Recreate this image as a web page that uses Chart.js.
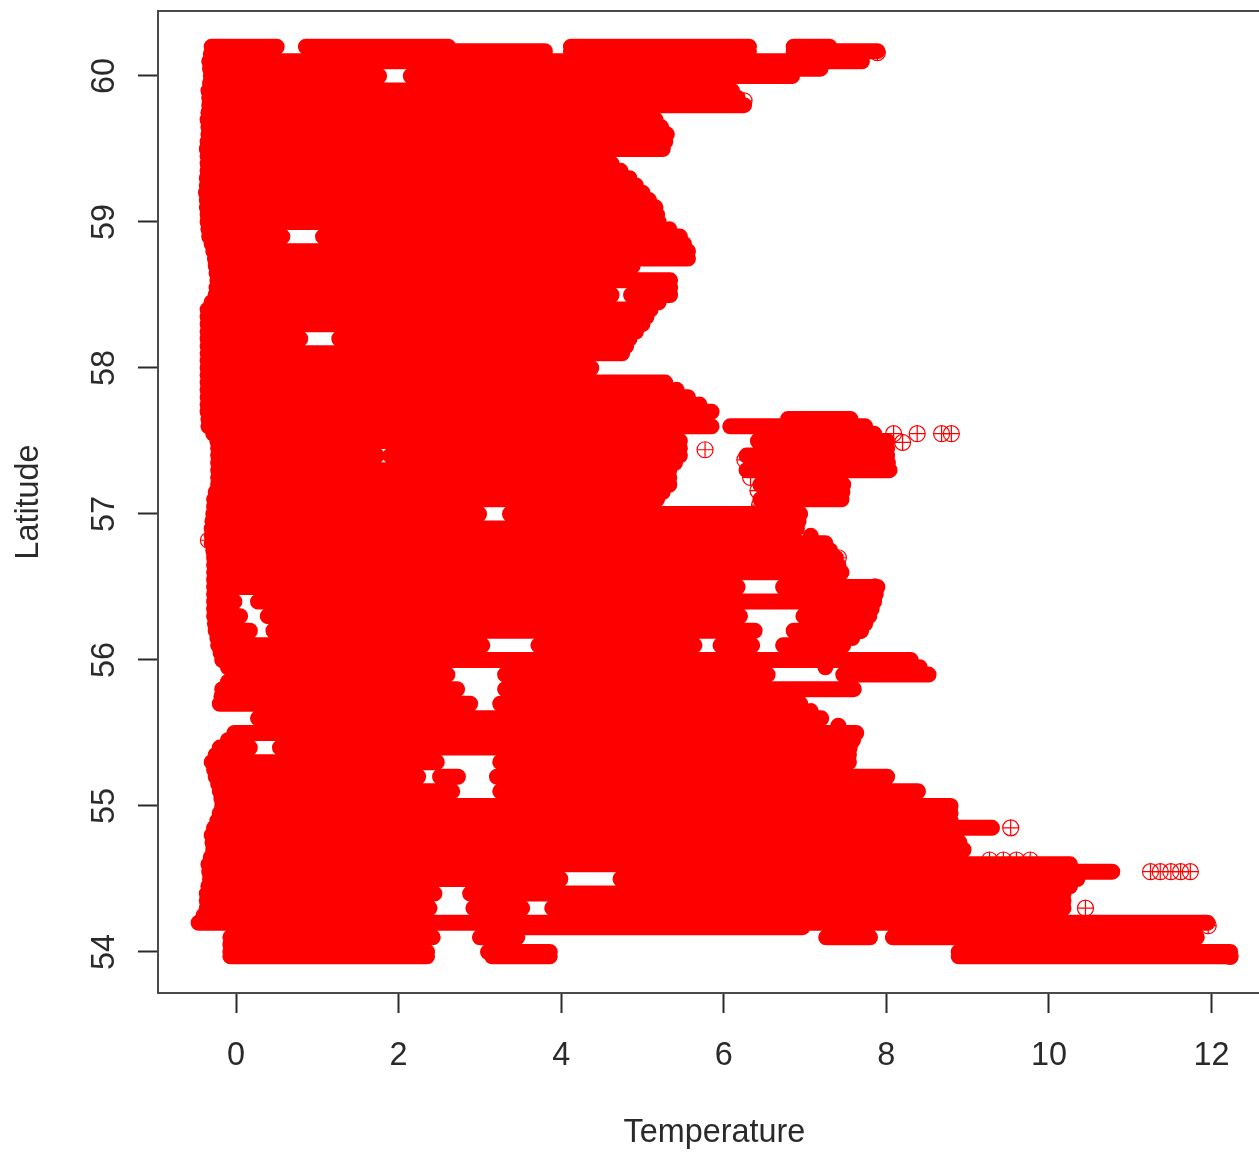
<!DOCTYPE html>
<html><head><meta charset="utf-8">
<style>html,body{margin:0;padding:0;background:#fff;overflow:hidden;width:1259px;height:1153px}canvas{display:block}</style>
<script src="https://cdn.jsdelivr.net/npm/chart.js@4"></script>
</head><body><canvas id="c" width="1280" height="1153"></canvas>
<script>
const xTicks=[0,2,4,6,8,10,12];
const yTicks=[54,55,56,57,58,59,60];
// Latitude rows, with the filled temperature runs [from,to,from,to,...] on each.
const latitudes=[60.2,60.17,60.1,60.05,60.0,59.9,59.8,59.7,59.6,59.5,59.4,59.3,59.2,59.1,59.0,58.9,58.8,58.75,58.7,58.6,58.5,58.4,58.3,58.2,58.1,58.0,57.9,57.8,57.7,57.65,57.6,57.5,57.4,57.3,57.2,57.1,57.0,56.9,56.8,56.7,56.6,56.5,56.4,56.3,56.2,56.1,56.0,55.9,55.8,55.7,55.6,55.5,55.4,55.3,55.2,55.1,55.0,54.9,54.85,54.8,54.7,54.6,54.55,54.5,54.4,54.3,54.2,54.17,54.1,54.0,53.97];
const temperatureRuns=[
[-0.30,0.50,0.86,2.61,4.12,6.31,6.86,7.30],
[2.00,3.80,4.12,6.31,6.86,7.89],
[-0.33,7.70],
[5.90,7.19],
[-0.31,1.76,2.15,6.84],
[-0.34,6.10],
[-0.33,6.25],
[-0.35,5.16],
[-0.34,5.30],
[-0.36,5.25],
[-0.35,4.62],
[-0.36,4.84],
[-0.37,5.00],
[-0.36,5.16],
[-0.35,5.20],
[-0.33,0.57,1.07,5.46],
[-0.28,5.56],
[4.50,5.56],
[-0.25,4.88],
[-0.23,5.34],
[-0.25,4.62,4.86,5.34],
[-0.35,5.10],
[-0.35,5.00],
[-0.35,0.79,1.27,4.84],
[-0.35,4.75],
[-0.35,4.37],
[-0.35,5.28],
[-0.35,5.56],
[-0.35,5.85],
[6.79,7.56],
[-0.34,5.85,6.08,7.74],
[-0.23,5.46,6.42,8.01],
[-0.22,1.73,1.90,5.46,6.28,8.01],
[-0.22,5.33,6.28,8.04],
[-0.22,5.33,6.45,7.47],
[-0.27,5.18,6.45,7.45],
[-0.28,2.99,3.37,6.94],
[-0.30,6.90],
[-0.30,7.25],
[-0.27,7.38],
[-0.27,7.45],
[-0.27,6.17,6.73,7.89],
[-0.27,-0.02,0.27,7.85],
[-0.27,0.05,0.39,6.20,6.98,7.79],
[-0.25,0.17,0.46,6.38,6.86,7.69],
[-0.22,3.03,3.72,5.64,5.96,6.35,6.73,7.47],
[-0.17,8.30],
[-0.02,2.60,3.31,6.54,7.47,8.52],
[-0.17,2.72,3.31,7.60],
[-0.20,2.88,3.25,6.94],
[0.27,7.20],
[-0.02,7.63],
[-0.20,0.17,0.54,7.55],
[-0.30,2.47,3.25,7.54],
[-0.25,2.24,2.51,2.73,3.21,8.01],
[-0.20,2.66,3.25,8.39],
[-0.17,8.79],
[-0.23,8.79],
[8.50,9.30],
[-0.30,8.86],
[-0.28,8.95],
[-0.34,10.26],
[8.00,10.78],
[-0.32,3.99,4.73,10.35],
[-0.36,2.44,2.88,10.18],
[-0.36,2.38,2.92,3.52,3.89,10.18],
[-0.46,11.95],
[3.50,6.97],
[-0.07,2.42,3.00,3.46,7.26,7.80,8.08,11.82],
[-0.07,2.35,3.10,3.86,8.89,12.23],
[-0.07,2.35,3.15,3.86,8.89,12.23]
];
// Solid markers along the left and right rims of the cloud.
const leftRimLatitude=[60.15,60.05,59.95,59.85,59.75,59.65,59.55,59.45,59.35,59.25,59.15,59.05,58.95,58.85,58.75,58.65,58.55,58.45,58.35,58.25,58.15,58.05,57.95,57.85,57.75,57.65,57.55,57.45,57.35,57.25,57.15,57.05,56.95,56.85,56.75,56.65,56.55,56.45,56.35,56.25,56.15,56.05,55.95,55.85,55.75,55.45,55.35,55.25,55.15,55.05,54.95,54.85,54.75,54.65,54.55,54.45,54.35,54.25,54.05];
const leftRimTemperature=[-0.31,-0.32,-0.32,-0.33,-0.34,-0.34,-0.35,-0.35,-0.35,-0.36,-0.36,-0.35,-0.34,-0.30,-0.26,-0.24,-0.24,-0.30,-0.35,-0.35,-0.35,-0.35,-0.35,-0.35,-0.35,-0.34,-0.28,-0.22,-0.22,-0.22,-0.25,-0.27,-0.29,-0.30,-0.28,-0.27,-0.27,-0.27,-0.27,-0.26,-0.23,-0.19,-0.10,-0.10,-0.18,-0.10,-0.25,-0.27,-0.22,-0.18,-0.20,-0.27,-0.29,-0.31,-0.33,-0.34,-0.36,-0.40,-0.07];
const rightRimLatitude=[59.85,59.65,59.55,59.35,59.25,59.15,59.05,58.95,58.85,58.55,58.45,58.35,58.25,58.15,57.85,57.75,57.45,57.35,57.25,57.15,57.05,57.55,57.45,57.35,57.15,56.95,56.85,56.75,56.65,56.45,56.35,56.25,56.15,55.95,55.95,55.65,55.55,55.45,55.35,54.95,54.75,54.45,54.35];
const rightRimTemperature=[6.17,5.23,5.28,4.73,4.92,5.08,5.18,5.33,5.51,5.34,5.20,5.05,4.92,4.80,5.42,5.70,5.46,5.40,5.33,5.25,5.10,7.85,8.01,8.02,7.46,6.92,7.07,7.31,7.41,7.87,7.82,7.74,7.58,8.41,7.25,7.07,7.41,7.59,7.54,8.79,8.90,10.26,10.18];
// Isolated open markers that can be told apart in the picture.
const sparseTemperature=[5.77,8.09,8.20,8.38,8.68,8.80,9.53,10.45,11.25,11.37,11.50,11.62,11.74,11.96,12.23,7.89,6.14,6.25,7.86,7.77,7.22,7.32,7.41,7.67,-0.34,9.27,9.44,9.60,9.77,6.26,6.33,6.42,6.44];
const sparseLatitude=[57.44,57.55,57.49,57.55,57.55,57.55,54.85,54.30,54.55,54.55,54.55,54.55,54.55,54.18,53.97,60.16,59.83,59.83,56.50,56.34,56.79,56.70,56.70,56.20,56.82,54.63,54.63,54.63,54.63,57.37,57.25,57.16,57.06];

const runPoints=[];
latitudes.forEach((lat,i)=>{
  const r=temperatureRuns[i];
  for(let k=0;k<r.length;k+=2){
    runPoints.push({x:r[k],y:lat},{x:r[k+1],y:lat},{x:null,y:null});
  }
});
const rimPoints=leftRimTemperature.map((x,i)=>({x,y:leftRimLatitude[i]})).concat(rightRimTemperature.map((x,i)=>({x,y:rightRimLatitude[i]})));
const sparsePoints=sparseTemperature.map((x,i)=>({x,y:sparseLatitude[i]}));
const RED='#ff0000', INK='#2a2a2a', FRAME='#4a4a4a', FONT='"Liberation Sans", Arial, sans-serif', FS=32.4;
const noPad=s=>{s.paddingLeft=0;s.paddingRight=0;s.paddingTop=0;s.paddingBottom=0;};

new Chart(document.getElementById('c'),{
  type:'scatter',
  data:{datasets:[
    {data:runPoints,showLine:true,spanGaps:false,borderColor:RED,backgroundColor:RED,borderWidth:16,borderCapStyle:'round',pointRadius:0,tension:0,clip:false},
    {data:rimPoints,showLine:false,pointStyle:'circle',pointRadius:8,borderWidth:0,backgroundColor:RED,clip:false},
    {data:sparsePoints,showLine:false,pointStyle:'circle',pointRadius:8,borderColor:RED,pointBorderWidth:1.2,backgroundColor:'rgba(255,0,0,0)',clip:false},
    {data:sparsePoints,showLine:false,pointStyle:'cross',pointRadius:8,borderColor:RED,pointBorderWidth:1.2,clip:false}
  ]},
  options:{
    responsive:false,animation:false,events:[],
    layout:{padding:{top:11,left:0,right:0,bottom:0}},
    plugins:{legend:{display:false},tooltip:{enabled:false},title:{display:false}},
    scales:{
      x:{type:'linear',position:'bottom',min:-0.96,max:12.73,
        afterBuildTicks:s=>{s.ticks=xTicks.map(v=>({value:v}))},
        afterFit:s=>{s.height=160;noPad(s);},
        ticks:{font:{family:FONT,size:FS},color:INK,padding:24,maxRotation:0,minRotation:0,autoSkip:false,includeBounds:false},
        grid:{display:true,drawOnChartArea:false,drawTicks:true,tickLength:20,tickColor:INK,tickWidth:2},
        border:{display:true,color:FRAME,width:2},
        title:{display:true,text:'Temperature',font:{family:FONT,size:FS},color:INK,padding:{top:1,bottom:0}}
      },
      xTop:{type:'linear',axis:'x',position:'top',min:-0.96,max:12.73,
        afterFit:s=>{s.height=0;noPad(s);},
        ticks:{display:false},
        grid:{display:false,drawTicks:false},
        border:{display:true,color:FRAME,width:2}
      },
      y:{type:'linear',position:'left',min:53.719,max:60.445,
        afterBuildTicks:s=>{s.ticks=yTicks.map(v=>({value:v}))},
        afterFit:s=>{s.width=158;noPad(s);},
        ticks:{font:{family:FONT,size:FS},color:INK,padding:15,minRotation:90,maxRotation:90,crossAlign:'center',autoSkip:false,includeBounds:false},
        grid:{display:true,drawOnChartArea:false,drawTicks:true,tickLength:20,tickColor:INK,tickWidth:2},
        border:{display:true,color:FRAME,width:2},
        title:{display:true,text:'Latitude',font:{family:FONT,size:FS},color:INK,padding:{top:10,bottom:0}}
      }
    }
  }
});
</script></body></html>
